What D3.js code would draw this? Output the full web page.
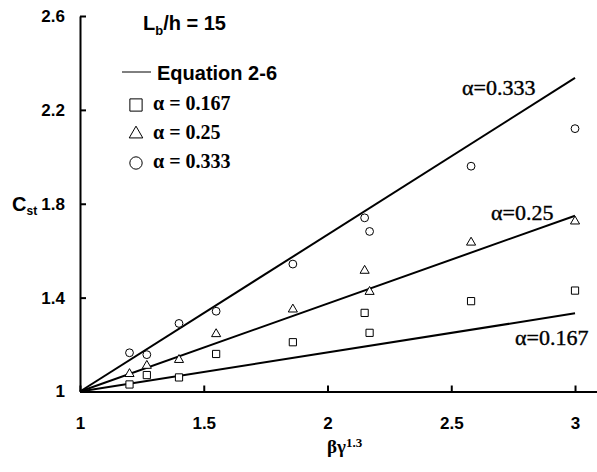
<!DOCTYPE html>
<html>
<head>
<meta charset="utf-8">
<script src="https://cdn.jsdelivr.net/npm/d3@7"></script>
<style>
    body { margin: 0; background: #fff; }
    .axis path, .axis line { stroke: #000; stroke-width: 2; }
    .axis text { font-family: "Liberation Sans", Arial, sans-serif; font-weight: bold; font-size: 17px; fill: #000; }
</style>
</head>
<body>
<div id="chart"></div>
<script>
// Data
var xTicks = [1, 1.5, 2, 2.5, 3];
var yTicks = [1, 1.4, 1.8, 2.2, 2.6];

var xTest = [1.2, 1.27, 1.4, 1.55, 1.86, 2.15, 2.17, 2.58, 3.0];
var cst167 = [1.03, 1.07, 1.06, 1.16, 1.21, 1.335, 1.25, 1.385, 1.43];
var cst25 = [1.075, 1.11, 1.135, 1.245, 1.35, 1.515, 1.425, 1.635, 1.725];
var cst333 = [1.165, 1.157, 1.29, 1.342, 1.543, 1.74, 1.682, 1.96, 2.12];

// Equation 2-6 lines: start and end points
var eqX = [1, 3];
var eq167 = [1, 1.333];
var eq25 = [1, 1.749];
var eq333 = [1, 2.336];

var lineLabels = ["\u03b1=0.167", "\u03b1=0.25", "\u03b1=0.333"];
var legendLabels = ["\u03b1 = 0.167", "\u03b1 = 0.25", "\u03b1 = 0.333"];

var width = 597, height = 472;

var svg = d3.select("#chart").append("svg")
    .attr("width", width)
    .attr("height", height);

// Scales
var xScale = d3.scaleLinear().domain([1, 3.09]).range([80, 597.3]);
var yScale = d3.scaleLinear().domain([1, 2.6]).range([391.5, 16]);

// Axes (ticks point inwards)
var xAxis = d3.axisBottom(xScale)
    .tickValues(xTicks)
    .tickFormat(d3.format("~g"))
    .tickSize(-6)
    .tickSizeOuter(0)
    .tickPadding(25);
svg.append("g")
    .attr("class", "axis x-axis")
    .attr("transform", "translate(0," + yScale(1) + ")")
    .call(xAxis)
    .attr("font-family", null).attr("font-size", null);

var yAxis = d3.axisLeft(yScale)
    .tickValues(yTicks)
    .tickFormat(d3.format("~g"))
    .tickSize(-6)
    .tickSizeOuter(0)
    .tickPadding(15);
svg.append("g")
    .attr("class", "axis y-axis")
    .attr("transform", "translate(" + xScale(1) + ",0)")
    .call(yAxis)
    .attr("font-family", null).attr("font-size", null);

// Axis titles
var xTitle = svg.append("text")
    .attr("x", 327)
    .attr("y", 453)
    .style("font-family", "'Liberation Serif', 'Times New Roman', serif")
    .style("font-weight", "bold")
    .style("font-size", "19px");
xTitle.append("tspan").text("\u03b2\u03b3");
xTitle.append("tspan").attr("dy", -6).style("font-size", "13px").text("1.3");

var yTitle = svg.append("text")
    .attr("x", 12)
    .attr("y", 211)
    .style("font-family", "'Liberation Sans', Arial, sans-serif")
    .style("font-weight", "bold")
    .style("font-size", "20px");
yTitle.append("tspan").text("C");
yTitle.append("tspan").attr("dy", 4).style("font-size", "12px").text("st");

// Equation lines
var line = d3.line()
    .x(function(d) { return xScale(d[0]); })
    .y(function(d) { return yScale(d[1]); });

[eq167, eq25, eq333].forEach(function(ys) {
    svg.append("path")
        .datum(eqX.map(function(x, i) { return [x, ys[i]]; }))
        .attr("d", line)
        .attr("fill", "none")
        .attr("stroke", "#000")
        .attr("stroke-width", 2);
});

// Line labels
var labelPos = [[515, 345], [491, 220], [462, 95]];
lineLabels.forEach(function(t, i) {
    svg.append("text")
        .attr("x", labelPos[i][0])
        .attr("y", labelPos[i][1])
        .style("font-family", "'Liberation Serif', 'Times New Roman', serif")
        .style("font-size", "22px")
        .style("stroke", "#000")
        .style("stroke-width", 0.4)
        .text(t);
});

// Test points
var symbols = [d3.symbolSquare, d3.symbolTriangle, d3.symbolCircle];
var sizes = [52, 36, 48];
[cst167, cst25, cst333].forEach(function(ys, k) {
    svg.selectAll(".pt" + k)
        .data(xTest.map(function(x, i) { return [x, ys[i]]; }))
        .enter().append("path")
        .attr("class", "pt" + k)
        .attr("d", d3.symbol().type(symbols[k]).size(sizes[k]))
        .attr("transform", function(d) { return "translate(" + xScale(d[0]) + "," + yScale(d[1]) + ")"; })
        .attr("fill", "#fff")
        .attr("stroke", "#000")
        .attr("stroke-width", 1);
});

// Legend
var title = svg.append("text")
    .attr("x", 143)
    .attr("y", 30)
    .style("font-family", "'Liberation Sans', Arial, sans-serif")
    .style("font-weight", "bold")
    .style("font-size", "20px");
title.append("tspan").text("L");
title.append("tspan").attr("dy", 5).style("font-size", "13px").text("b");
title.append("tspan").attr("dy", -5).text("/h = 15");

svg.append("line")
    .attr("x1", 122).attr("x2", 151)
    .attr("y1", 72).attr("y2", 72)
    .attr("stroke", "#000")
    .attr("stroke-width", 1);
svg.append("text")
    .attr("x", 157)
    .attr("y", 80)
    .style("font-family", "'Liberation Sans', Arial, sans-serif")
    .style("font-weight", "bold")
    .style("font-size", "20px")
    .text("Equation 2-6");

var legendY = [105, 134, 163];
var legendSizes = [150, 80, 120];
legendLabels.forEach(function(t, i) {
    svg.append("path")
        .attr("d", d3.symbol().type(symbols[i]).size(legendSizes[i]))
        .attr("transform", "translate(136," + legendY[i] + ")")
        .attr("fill", "#fff")
        .attr("stroke", "#000")
        .attr("stroke-width", 1);
    svg.append("text")
        .attr("x", 153)
        .attr("y", legendY[i] + 5)
        .style("font-family", "'Liberation Serif', 'Times New Roman', serif")
        .style("font-weight", "bold")
        .style("font-size", "20px")
        .text(t);
});
</script>
</body>
</html>
